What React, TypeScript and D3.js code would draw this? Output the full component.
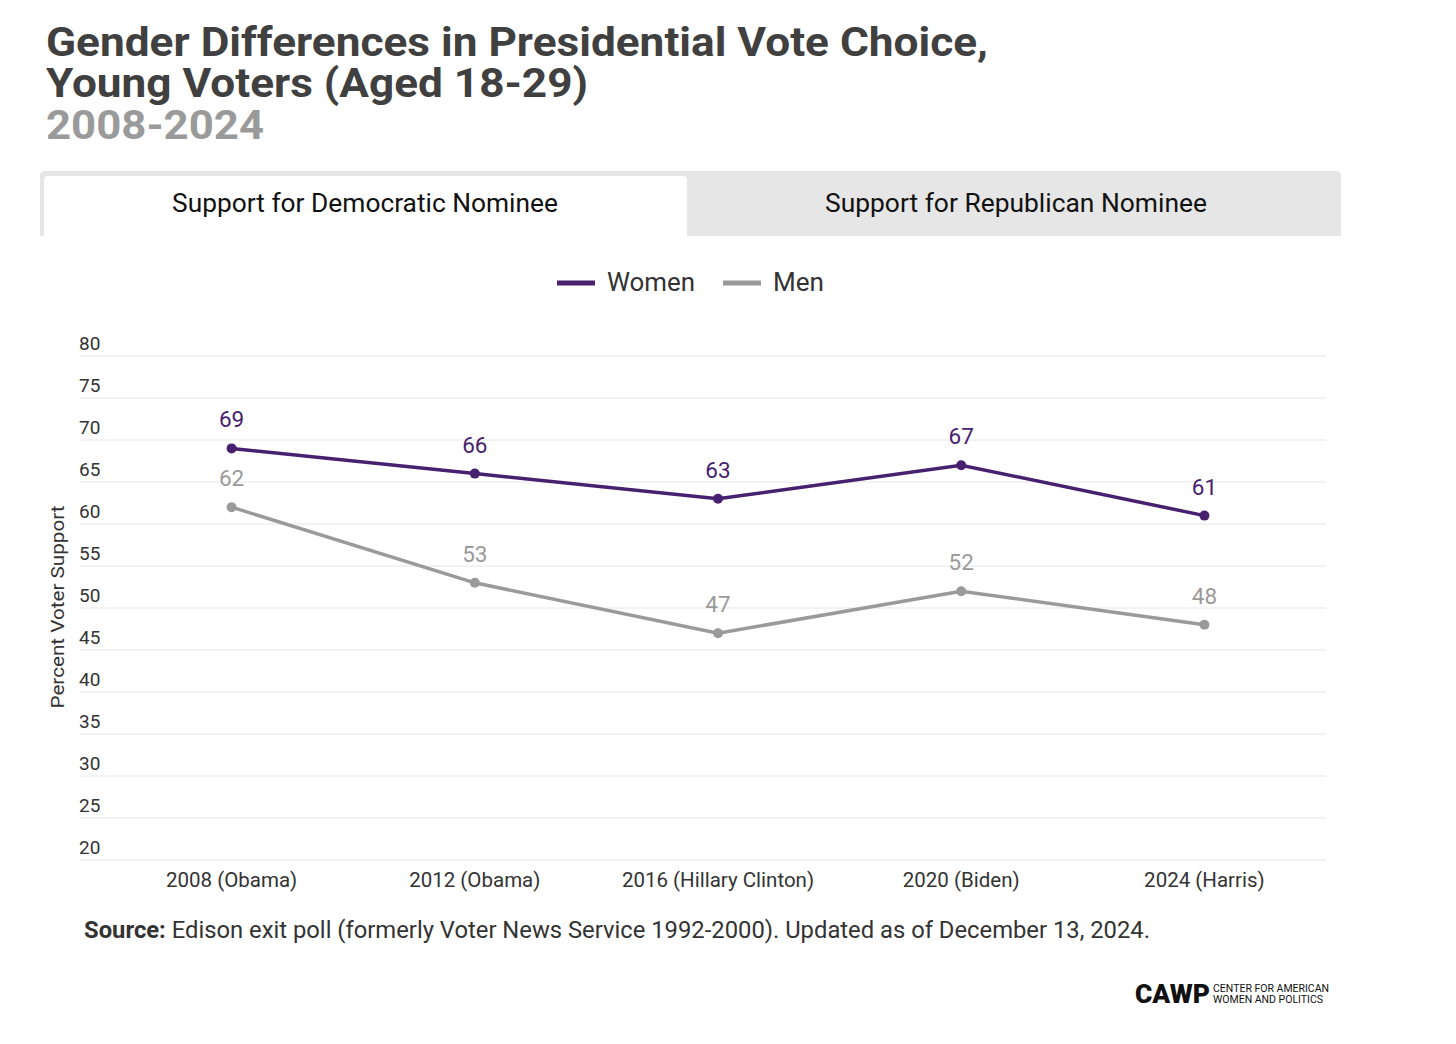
import React from "react";
import * as d3 from "d3";

const categories = ["2008 (Obama)", "2012 (Obama)", "2016 (Hillary Clinton)", "2020 (Biden)", "2024 (Harris)"];
const womenValues = [69, 66, 63, 67, 61];
const menValues = [62, 53, 47, 52, 48];
const yTicks = [20, 25, 30, 35, 40, 45, 50, 55, 60, 65, 70, 75, 80];
const seriesNames = ["Women", "Men"];

const W = 1456;
const H = 1044;
const PURPLE = "#47216f";
const GRAY = "#9a9a9a";
const FONT = "Roboto, 'Noto Sans', sans-serif";

export default function App() {
  const x = d3.scaleBand<string>().domain(categories).range([110, 1326]);
  const y = d3.scaleLinear().domain([20, 80]).range([860, 356]);
  const cx = (c: string) => (x(c) ?? 0) + x.bandwidth() / 2;
  const line = d3
    .line<number>()
    .x((_, i) => cx(categories[i]))
    .y((d) => y(d));

  const series = [
    { name: seriesNames[0], values: womenValues, color: PURPLE },
    { name: seriesNames[1], values: menValues, color: GRAY },
  ];

  return (
    <svg
      width={W}
      height={H}
      viewBox={`0 0 ${W} ${H}`}
      style={{ position: "absolute", left: 0, top: 0, background: "#fff", fontFamily: FONT }}
    >
      <rect width={W} height={H} fill="#fff" />
      {/* Title */}
      <text x={46} y={56} fontSize={41.5} fontWeight={700} fill="#404040" textLength={942} lengthAdjust="spacingAndGlyphs">
        Gender Differences in Presidential Vote Choice,
      </text>
      <text x={46} y={97} fontSize={41.5} fontWeight={700} fill="#404040" textLength={542} lengthAdjust="spacingAndGlyphs">
        Young Voters (Aged 18-29)
      </text>
      <text x={46} y={139} fontSize={41.5} fontWeight={700} fill="#9a9a9a" textLength={218} lengthAdjust="spacingAndGlyphs">
        2008-2024
      </text>

      {/* Tabs */}
      <path d="M40,236 V176 Q40,171 45,171 H1336 Q1341,171 1341,176 V236 Z" fill="#e6e6e6" />
      <path d="M44,236 V180 Q44,176 48,176 H683 Q687,176 687,180 V236 Z" fill="#fff" />
      <text x={365} y={212} textAnchor="middle" fontSize={25} fill="#111" textLength={386} lengthAdjust="spacingAndGlyphs">
        Support for Democratic Nominee
      </text>
      <text x={1016} y={212} textAnchor="middle" fontSize={25} fill="#111" textLength={382} lengthAdjust="spacingAndGlyphs">
        Support for Republican Nominee
      </text>

      {/* Legend */}
      <line x1={557} x2={595} y1={283} y2={283} stroke={PURPLE} strokeWidth={5} />
      <text x={607} y={291} fontSize={25.5} fill="#333" textLength={88} lengthAdjust="spacingAndGlyphs">{seriesNames[0]}</text>
      <line x1={723} x2={761} y1={283} y2={283} stroke={GRAY} strokeWidth={5} />
      <text x={773} y={291} fontSize={25.5} fill="#333" textLength={51} lengthAdjust="spacingAndGlyphs">{seriesNames[1]}</text>

      {/* Grid + y ticks */}
      {yTicks.map((t) => (
        <g key={t}>
          <line x1={80} x2={1326} y1={y(t)} y2={y(t)} stroke="#e6e6e6" strokeWidth={1} />
          <text x={79} y={y(t) - 6} fontSize={19} fill="#333">
            {t}
          </text>
        </g>
      ))}
      <text
        transform={`translate(64, 607) rotate(-90)`}
        textAnchor="middle"
        fontSize={19}
        fill="#333"
        textLength={203}
        lengthAdjust="spacingAndGlyphs"
      >
        Percent Voter Support
      </text>

      {/* X labels */}
      {categories.map((c) => (
        <text key={c} x={cx(c)} y={887} textAnchor="middle" fontSize={20.5} fill="#333">
          {c}
        </text>
      ))}

      {/* Lines */}
      {series.map((s) => (
        <g key={s.name}>
          <path d={line(s.values) ?? ""} fill="none" stroke={s.color} strokeWidth={3.5} />
          {s.values.map((v, i) => (
            <g key={i}>
              <circle cx={cx(categories[i])} cy={y(v)} r={5} fill={s.color} />
              <text
                x={cx(categories[i])}
                y={y(v) - 21}
                textAnchor="middle"
                fontSize={22.5}
                fill={s.color}
              >
                {v}
              </text>
            </g>
          ))}
        </g>
      ))}

      {/* Source */}
      <text x={84} y={938} fontSize={23} fill="#333" textLength={1066} lengthAdjust="spacingAndGlyphs">
        <tspan fontWeight={700}>Source:</tspan>
        <tspan> Edison exit poll (formerly Voter News Service 1992-2000). Updated as of December 13, 2024.</tspan>
      </text>

      {/* Logo */}
      <text x={1135} y={1003} fontSize={25} fontWeight={900} fill="#111" textLength={75} lengthAdjust="spacingAndGlyphs">
        CAWP
      </text>
      <text x={1213} y={992} fontSize={10.5} fill="#111">
        CENTER FOR AMERICAN
      </text>
      <text x={1213} y={1003} fontSize={10.5} fill="#111">
        WOMEN AND POLITICS
      </text>
    </svg>
  );
}
